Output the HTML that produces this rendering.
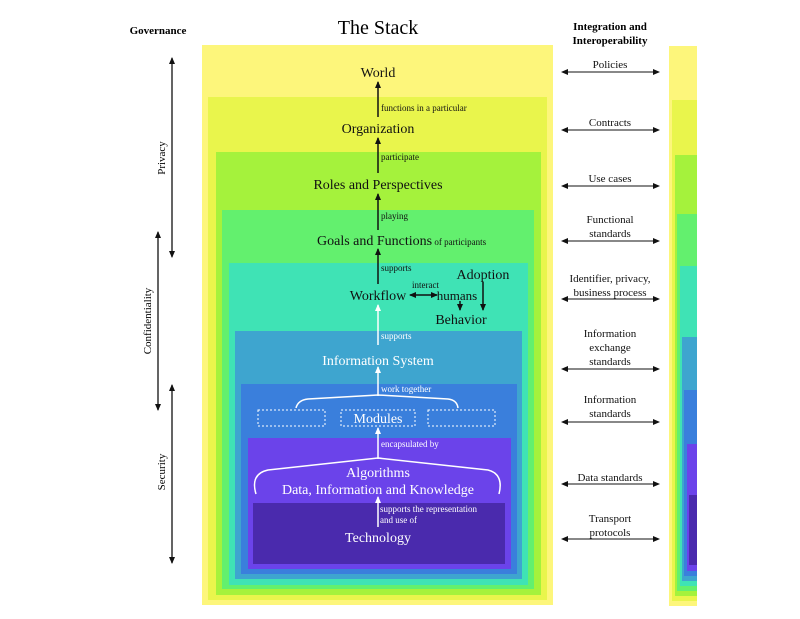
<!DOCTYPE html>
<html><head><meta charset="utf-8"><style>
html,body{margin:0;padding:0;background:#fff;}
svg{display:block;font-family:"Liberation Serif",serif;}
</style></head><body>
<svg width="800" height="619" viewBox="0 0 800 619" xmlns="http://www.w3.org/2000/svg">
<defs>
<marker id="ab" markerUnits="userSpaceOnUse" markerWidth="7" markerHeight="7" refX="6" refY="3.5" orient="auto"><path d="M0,0.5 L7,3.5 L0,6.5 z" fill="#111"/></marker>
<marker id="aw" markerUnits="userSpaceOnUse" markerWidth="7" markerHeight="7" refX="6" refY="3.5" orient="auto"><path d="M0,0.5 L7,3.5 L0,6.5 z" fill="#fff"/></marker>
<marker id="as" markerUnits="userSpaceOnUse" markerWidth="7" markerHeight="7" refX="6" refY="3.5" orient="auto-start-reverse"><path d="M0,0.5 L7,3.5 L0,6.5 z" fill="#111"/></marker>
<clipPath id="rc"><rect x="669" y="0" width="28" height="619"/></clipPath>
</defs>
<rect x="202" y="45" width="351" height="560" fill="#fdf67b"/>
<rect x="208" y="97" width="339" height="503" fill="#e9f54c"/>
<rect x="216" y="152" width="325" height="443" fill="#a5f23c"/>
<rect x="222" y="210" width="312" height="379" fill="#63f06e"/>
<rect x="229" y="263" width="299" height="322" fill="#3fe3b5"/>
<rect x="235" y="331" width="287" height="248" fill="#3ea5cf"/>
<rect x="241" y="384" width="276" height="190" fill="#3a7fdc"/>
<rect x="248" y="438" width="263" height="131" fill="#6b43ea"/>
<rect x="253" y="503" width="252" height="61" fill="#4a2aad"/>
<g clip-path="url(#rc)">
<rect x="669" y="46" width="60" height="560" fill="#fdf67b"/>
<rect x="672" y="100" width="60" height="501" fill="#e9f54c"/>
<rect x="675" y="155" width="60" height="441" fill="#a5f23c"/>
<rect x="677" y="214" width="60" height="377" fill="#63f06e"/>
<rect x="680" y="266" width="60" height="320" fill="#3fe3b5"/>
<rect x="682" y="337" width="60" height="244" fill="#3ea5cf"/>
<rect x="684" y="390" width="60" height="186" fill="#3a7fdc"/>
<rect x="687" y="444" width="60" height="127" fill="#6b43ea"/>
<rect x="689" y="495" width="60" height="70" fill="#4a2aad"/>
</g>
<text x="158" y="34" font-size="11" font-weight="bold" text-anchor="middle">Governance</text>
<text x="378" y="34" font-size="20" text-anchor="middle">The Stack</text>
<text x="610" y="30" font-size="11" font-weight="bold" text-anchor="middle">Integration and</text>
<text x="610" y="44" font-size="11" font-weight="bold" text-anchor="middle">Interoperability</text>
<g stroke="#111" stroke-width="1.3">
<line x1="172" y1="58" x2="172" y2="257" marker-start="url(#as)" marker-end="url(#as)"/>
<line x1="158" y1="232" x2="158" y2="410" marker-start="url(#as)" marker-end="url(#as)"/>
<line x1="172" y1="385" x2="172" y2="563" marker-start="url(#as)" marker-end="url(#as)"/>
</g>
<g font-size="11">
<text transform="translate(165,158) rotate(-90)" text-anchor="middle">Privacy</text>
<text transform="translate(151,321) rotate(-90)" text-anchor="middle">Confidentiality</text>
<text transform="translate(165,472) rotate(-90)" text-anchor="middle">Security</text>
</g>
<g stroke="#111" stroke-width="1.1">
<line x1="562" y1="72" x2="659" y2="72" marker-start="url(#as)" marker-end="url(#as)"/>
<line x1="562" y1="130" x2="659" y2="130" marker-start="url(#as)" marker-end="url(#as)"/>
<line x1="562" y1="186" x2="659" y2="186" marker-start="url(#as)" marker-end="url(#as)"/>
<line x1="562" y1="241" x2="659" y2="241" marker-start="url(#as)" marker-end="url(#as)"/>
<line x1="562" y1="299" x2="659" y2="299" marker-start="url(#as)" marker-end="url(#as)"/>
<line x1="562" y1="369" x2="659" y2="369" marker-start="url(#as)" marker-end="url(#as)"/>
<line x1="562" y1="422" x2="659" y2="422" marker-start="url(#as)" marker-end="url(#as)"/>
<line x1="562" y1="484" x2="659" y2="484" marker-start="url(#as)" marker-end="url(#as)"/>
<line x1="562" y1="539" x2="659" y2="539" marker-start="url(#as)" marker-end="url(#as)"/>
</g>
<g font-size="11" text-anchor="middle" fill="#111">
<text x="610" y="68">Policies</text>
<text x="610" y="126">Contracts</text>
<text x="610" y="182">Use cases</text>
<text x="610" y="223">Functional</text>
<text x="610" y="237">standards</text>
<text x="610" y="282">Identifier, privacy,</text>
<text x="610" y="296">business process</text>
<text x="610" y="337">Information</text>
<text x="610" y="351">exchange</text>
<text x="610" y="365">standards</text>
<text x="610" y="403">Information</text>
<text x="610" y="417">standards</text>
<text x="610" y="481">Data standards</text>
<text x="610" y="522">Transport</text>
<text x="610" y="536">protocols</text>
</g>
<g stroke="#111" stroke-width="1.5">
<line x1="378" y1="117" x2="378" y2="82" marker-end="url(#ab)"/>
<line x1="378" y1="173" x2="378" y2="138" marker-end="url(#ab)"/>
<line x1="378" y1="230" x2="378" y2="194" marker-end="url(#ab)"/>
<line x1="378" y1="284" x2="378" y2="249" marker-end="url(#ab)"/>
<line x1="410" y1="295" x2="437" y2="295" marker-start="url(#as)" marker-end="url(#as)"/>
<line x1="483" y1="282" x2="483" y2="310" marker-end="url(#ab)"/>
<line x1="460" y1="301" x2="460" y2="310" marker-end="url(#ab)"/>
</g>
<g font-size="14" text-anchor="middle" fill="#111">
<text x="378" y="77">World</text>
<text x="378" y="133">Organization</text>
<text x="378" y="189">Roles and Perspectives</text>
<text x="378" y="300">Workflow</text>
<text x="483" y="279">Adoption</text>
<text x="461" y="324">Behavior</text>
<text x="457" y="300" font-size="13">humans</text>
</g>
<text x="317" y="245" font-size="14" fill="#111">Goals and Functions<tspan font-size="9"> of participants</tspan></text>
<g font-size="9" fill="#111">
<text x="381" y="111">functions in a particular</text>
<text x="381" y="160">participate</text>
<text x="381" y="219">playing</text>
<text x="381" y="271">supports</text>
<text x="412" y="288">interact</text>
</g>
<g stroke="#fff" stroke-width="1.5" fill="none">
<line x1="378" y1="345" x2="378" y2="305" marker-end="url(#aw)"/>
<line x1="378" y1="396" x2="378" y2="367" marker-end="url(#aw)"/>
<path d="M296,408 Q298,400 308,399 L378,395 L448,399 Q457,400 458,408"/>
<line x1="378" y1="459" x2="378" y2="428" marker-end="url(#aw)"/>
<path d="M256,494 Q250,474 268,470 L378,458 L488,470 Q504,474 499,494"/>
<line x1="378" y1="527" x2="378" y2="497" marker-end="url(#aw)"/>
<g stroke-width="1" stroke-dasharray="2,2">
<rect x="258" y="410" width="67" height="16"/>
<rect x="341" y="410" width="74" height="16"/>
<rect x="428" y="410" width="67" height="16"/>
</g>
</g>
<g font-size="14" text-anchor="middle" fill="#fff">
<text x="378" y="365">Information System</text>
<text x="378" y="423">Modules</text>
<text x="378" y="477">Algorithms</text>
<text x="378" y="494">Data, Information and Knowledge</text>
<text x="378" y="542">Technology</text>
</g>
<g font-size="9" fill="#fff">
<text x="381" y="339">supports</text>
<text x="381" y="392">work together</text>
<text x="381" y="447">encapsulated by</text>
<text x="380" y="512">supports the representation</text>
<text x="380" y="523">and use of</text>
</g>
</svg>
</body></html>
